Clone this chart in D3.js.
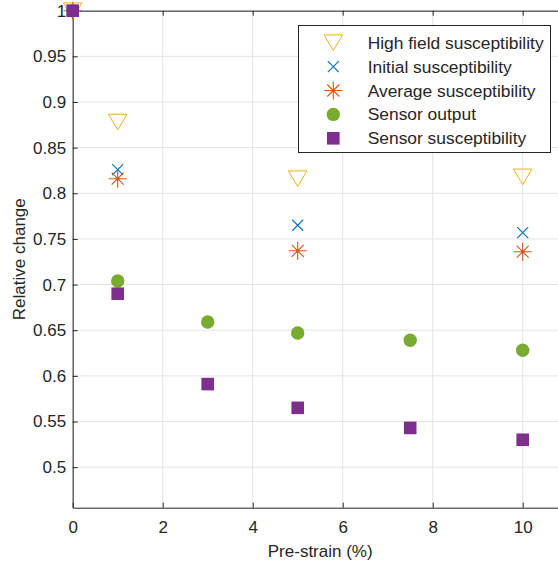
<!DOCTYPE html>
<html>
<head>
<meta charset="utf-8">
<script src="https://cdn.jsdelivr.net/npm/d3@7"></script>
<style>
  body { margin: 0; background: #fff; }
  svg { display: block; font-family: "Liberation Sans", Arial, sans-serif; }
</style>
</head>
<body>
<svg id="chart" width="558" height="563"></svg>
<script>
// data
var xTicks = [0, 2, 4, 6, 8, 10];
var yTicks = [0.5, 0.55, 0.6, 0.65, 0.7, 0.75, 0.8, 0.85, 0.9, 0.95, 1];

var strainA = [0, 1, 5, 10];
var strainB = [0, 1, 3, 5, 7.5, 10];

var highField = [1, 0.878, 0.816, 0.818];
var initialSusc = [1, 0.826, 0.765, 0.757];
var averageSusc = [1, 0.816, 0.737, 0.736];
var sensorOutput = [1, 0.704, 0.659, 0.647, 0.639, 0.628];
var sensorSusc = [1, 0.690, 0.591, 0.565, 0.543, 0.530];

var seriesNames = ["High field susceptibility", "Initial susceptibility",
  "Average susceptibility", "Sensor output", "Sensor susceptibility"];

(function() {
  "use strict";
  var svg = d3.select("#chart");
  var left = 72.7, right = 567.7, top = 10.7, bottom = 507.7;
  var ink = "#262626";

  var x = d3.scaleLinear().domain([0, 11]).range([left, right]);
  var y = d3.scaleLinear().domain([0.4556, 1]).range([bottom, top]);

  var series = [
    { name: seriesNames[0], xs: strainA, ys: highField, shape: "tri", color: "#EDB120" },
    { name: seriesNames[1], xs: strainA, ys: initialSusc, shape: "x", color: "#0072BD" },
    { name: seriesNames[2], xs: strainA, ys: averageSusc, shape: "star", color: "#D95319" },
    { name: seriesNames[3], xs: strainB, ys: sensorOutput, shape: "circle", color: "#77AC30" },
    { name: seriesNames[4], xs: strainB, ys: sensorSusc, shape: "square", color: "#7E2F8E" }
  ];

  // grid
  var grid = svg.append("g").attr("stroke", "#e3e3e3").attr("stroke-width", 1);
  grid.selectAll("line.gx").data(xTicks).enter().append("line")
    .attr("x1", function(d) { return x(d); }).attr("x2", function(d) { return x(d); })
    .attr("y1", top).attr("y2", bottom);
  grid.selectAll("line.gy").data(yTicks).enter().append("line")
    .attr("x1", left).attr("x2", right)
    .attr("y1", function(d) { return y(d); }).attr("y2", function(d) { return y(d); });

  // axes
  var fmtY = function(d) { return d3.format("")(+d.toFixed(2)); };
  var gl = svg.append("g").attr("transform", "translate(" + left + ",0)")
    .call(d3.axisLeft(y).tickValues(yTicks).tickFormat(fmtY)
      .tickSizeInner(-5).tickSizeOuter(0).tickPadding(6.5));
  var gb = svg.append("g").attr("transform", "translate(0," + bottom + ")")
    .call(d3.axisBottom(x).tickValues(xTicks).tickFormat(d3.format("d"))
      .tickSizeInner(-5).tickSizeOuter(0).tickPadding(13));
  var gt = svg.append("g").attr("transform", "translate(0," + top + ")")
    .call(d3.axisTop(x).tickValues(xTicks).tickFormat("")
      .tickSizeInner(-5).tickSizeOuter(0));
  [gl, gb, gt].forEach(function(g) {
    g.selectAll("path, line").attr("stroke", ink);
    g.selectAll("text").attr("fill", ink).style("font-size", "17px")
      .style("font-family", "'Liberation Sans', Arial, sans-serif");
  });

  svg.append("text").attr("x", (left + right) / 2).attr("y", 557)
    .attr("text-anchor", "middle").attr("fill", ink).style("font-size", "17px")
    .text("Pre-strain (%)");
  svg.append("text").attr("transform", "translate(25," + ((top + bottom) / 2) + ") rotate(-90)")
    .attr("text-anchor", "middle").attr("fill", ink).style("font-size", "17px")
    .text("Relative change");

  function drawMarker(g, shape, color) {
    if (shape === "tri") {
      g.append("path").attr("d", "M-9.3,-7.8L9.3,-7.8L0,7.8Z")
        .attr("fill", "none").attr("stroke", color).attr("stroke-width", 1);
    } else if (shape === "x") {
      g.append("path").attr("d", "M-5.5,-5.5L5.5,5.5M-5.5,5.5L5.5,-5.5")
        .attr("stroke", color).attr("stroke-width", 1.1);
    } else if (shape === "star") {
      g.append("path").attr("d", "M-9,0L9,0M0,-9L0,9M-6,-6L6,6M-6,6L6,-6")
        .attr("stroke", color).attr("stroke-width", 1.1);
      g.append("circle").attr("r", 1.6).attr("fill", color);
    } else if (shape === "circle") {
      g.append("circle").attr("r", 6.7).attr("fill", color);
    } else {
      g.append("rect").attr("x", -6.3).attr("y", -6.3).attr("width", 12.6).attr("height", 12.6)
        .attr("fill", color);
    }
  }

  series.forEach(function(s) {
    var pts = s.xs.map(function(v, i) { return [v, s.ys[i]]; });
    svg.append("g").selectAll("g").data(pts).enter().append("g")
      .attr("transform", function(d) { return "translate(" + x(d[0]) + "," + y(d[1]) + ")"; })
      .each(function() { drawMarker(d3.select(this), s.shape, s.color); });
  });

  // legend
  var lg = svg.append("g");
  lg.append("rect").attr("x", 298.5).attr("y", 25.5).attr("width", 252).attr("height", 127)
    .attr("fill", "#fff").attr("stroke", ink).attr("stroke-width", 1);
  series.forEach(function(s, i) {
    var cy = 42.7 + i * 23.9;
    drawMarker(lg.append("g").attr("transform", "translate(333.3," + cy + ")"), s.shape, s.color);
    lg.append("text").attr("x", 367.7).attr("y", cy + 6).attr("fill", ink)
      .style("font-size", "17.4px").text(s.name);
  });
})();
</script>
</body>
</html>
